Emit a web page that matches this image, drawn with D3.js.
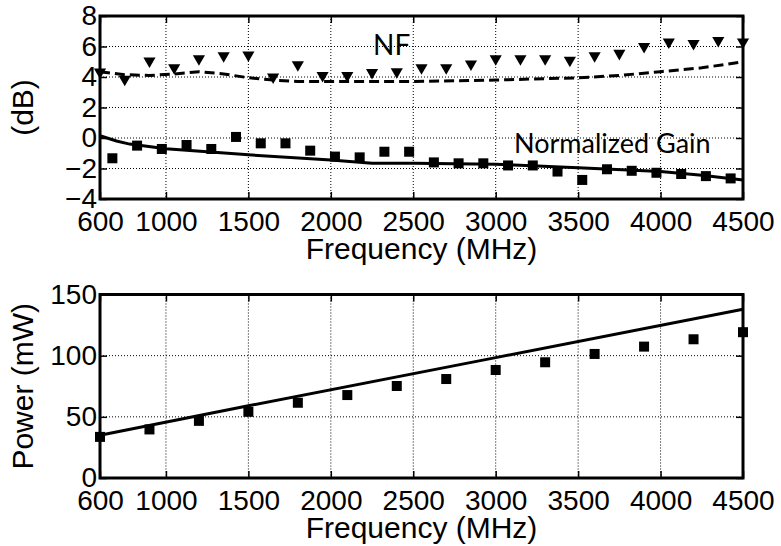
<!DOCTYPE html>
<html>
<head>
<meta charset="utf-8">
<script src="https://cdn.jsdelivr.net/npm/d3@7"></script>
<style>
  body { margin: 0; background: #fff; }
  svg { display: block; }
</style>
</head>
<body>
<div id="chart"></div>
<script>
// tick labels
const freqTicks = [600, 1000, 1500, 2000, 2500, 3000, 3500, 4000, 4500];
const dbTicks = [-4, -2, 0, 2, 4, 6, 8];
const powerTicks = [0, 50, 100, 150];

// NF measured (triangles)
const nfFreq = [600, 750, 900, 1050, 1200, 1350, 1500, 1650, 1800, 1950, 2100, 2250, 2400,
  2550, 2700, 2850, 3000, 3150, 3300, 3450, 3600, 3750, 3900, 4050, 4200, 4350, 4500];
const nfMeas = [4.33, 3.85, 5.05, 4.6, 5.2, 5.4, 5.45, 4.0, 4.8, 4.1, 4.1, 4.3, 4.35,
  4.6, 4.6, 4.85, 5.2, 5.2, 5.2, 5.1, 5.4, 5.55, 6.0, 6.3, 6.2, 6.4, 6.3];

// NF simulated (dashed)
const nfSimFreq = [600, 750, 900, 1050, 1200, 1350, 1500, 1650, 1800, 2000, 2500, 3000, 3500, 3750, 4000, 4250, 4500];
const nfSim = [4.35, 4.15, 4.1, 4.2, 4.35, 4.2, 3.95, 3.8, 3.7, 3.7, 3.7, 3.8, 3.95, 4.1, 4.35, 4.6, 5.0];

// normalized gain measured (squares)
const gainFreq = [675, 825, 975, 1125, 1275, 1425, 1575, 1725, 1875, 2025, 2175, 2325, 2475,
  2625, 2775, 2925, 3075, 3225, 3375, 3525, 3675, 3825, 3975, 4125, 4275, 4425];
const gainMeas = [-1.33, -0.5, -0.72, -0.46, -0.72, 0.07, -0.35, -0.35, -0.83, -1.22, -1.27, -0.9, -0.9,
  -1.6, -1.66, -1.66, -1.8, -1.8, -2.2, -2.75, -2.05, -2.15, -2.28, -2.36, -2.5, -2.65];

// normalized gain simulated (solid)
const gainSimFreq = [600, 700, 780, 1000, 1500, 2000, 2250, 2500, 3000, 3500, 4000, 4250, 4500];
const gainSim = [0.15, -0.2, -0.4, -0.7, -1.1, -1.45, -1.65, -1.65, -1.72, -1.95, -2.2, -2.45, -2.75];

// power measured (squares) and simulated (solid)
const powerFreq = [600, 900, 1200, 1500, 1800, 2100, 2400, 2700, 3000, 3300, 3600, 3900, 4200, 4500];
const powerMeas = [33.6, 39.7, 46.7, 54.1, 61.5, 67.8, 75.2, 80.9, 88.3, 94.6, 101.4, 107.4, 113.4, 119.2];
const powerSimFreq = [600, 1500, 3000, 4500];
const powerSim = [35, 59, 98.4, 138];

const W = 781, H = 546;
const LEFT = 100, RIGHT = 743;
const FONT = '"Liberation Sans", Arial, sans-serif';

const svg = d3.select("#chart").append("svg")
  .attr("width", W)
  .attr("height", H);

svg.append("rect").attr("width", W).attr("height", H).attr("fill", "#fff");

const x = d3.scaleLinear().domain([600, 4500]).range([LEFT, RIGHT]);

function panel(top, bottom, yDomain, yTicks, yLabel) {
  const y = d3.scaleLinear().domain(yDomain).range([bottom, top]);
  const g = svg.append("g");

  // dotted grid
  g.selectAll(".vgrid")
    .data(freqTicks.slice(1, -1))
    .enter().append("line")
    .attr("x1", d => x(d)).attr("x2", d => x(d))
    .attr("y1", top).attr("y2", bottom)
    .attr("stroke", "#000").attr("stroke-width", 1)
    .attr("stroke-dasharray", "1,2");
  g.selectAll(".hgrid")
    .data(yTicks.slice(1, -1))
    .enter().append("line")
    .attr("x1", LEFT).attr("x2", RIGHT)
    .attr("y1", d => y(d)).attr("y2", d => y(d))
    .attr("stroke", "#000").attr("stroke-width", 1)
    .attr("stroke-dasharray", "1,2");

  // axes with inward ticks
  const xAxis = d3.axisBottom(x).tickValues(freqTicks).tickFormat(d3.format("d"))
    .tickSizeInner(-7).tickSizeOuter(0).tickPadding(12);
  const gx = g.append("g")
    .attr("transform", `translate(0, ${bottom})`)
    .call(xAxis);
  gx.selectAll("text").attr("font-size", "28px").attr("font-family", FONT).attr("fill", "#000");

  g.append("g")
    .attr("transform", `translate(0, ${top})`)
    .call(d3.axisTop(x).tickValues(freqTicks).tickSizeInner(-7).tickSizeOuter(0).tickFormat(""));

  const yAxis = d3.axisLeft(y).tickValues(yTicks).tickFormat(d3.format("d"))
    .tickSizeInner(-7).tickSizeOuter(0).tickPadding(3);
  const gy = g.append("g")
    .attr("transform", `translate(${LEFT}, 0)`)
    .call(yAxis);
  gy.selectAll("text").attr("font-size", "28px").attr("font-family", FONT).attr("fill", "#000");

  g.append("g")
    .attr("transform", `translate(${RIGHT}, 0)`)
    .call(d3.axisRight(y).tickValues(yTicks).tickSizeInner(-7).tickSizeOuter(0).tickFormat(""));

  g.selectAll(".domain").remove();
  g.selectAll(".tick line").attr("stroke", "#000").attr("stroke-width", 1.5);

  g.append("rect")
    .attr("x", LEFT).attr("y", top)
    .attr("width", RIGHT - LEFT).attr("height", bottom - top)
    .attr("fill", "none").attr("stroke", "#000").attr("stroke-width", 3);

  // X label
  g.append("text")
    .attr("x", (LEFT + RIGHT) / 2)
    .attr("y", bottom + 60)
    .attr("font-size", "30px")
    .attr("font-family", FONT)
    .attr("text-anchor", "middle")
    .text("Frequency (MHz)");

  // Y label
  g.append("text")
    .attr("transform", `translate(33, ${(top + bottom) / 2}) rotate(-90)`)
    .attr("font-size", "30px")
    .attr("font-family", FONT)
    .attr("text-anchor", "middle")
    .text(yLabel);

  return { g, y };
}

// ---- top panel: NF and gain ----
const p1 = panel(16, 199, [-4, 8], dbTicks, "(dB)");

const line1 = d3.line().x(d => x(d[0])).y(d => p1.y(d[1]));

p1.g.append("path")
  .datum(d3.zip(nfSimFreq, nfSim))
  .attr("d", line1)
  .attr("fill", "none").attr("stroke", "#000").attr("stroke-width", 3)
  .attr("stroke-dasharray", "10,5");

p1.g.append("path")
  .datum(d3.zip(gainSimFreq, gainSim))
  .attr("d", line1)
  .attr("fill", "none").attr("stroke", "#000").attr("stroke-width", 3);

const tri = d3.symbol().type(d3.symbolTriangle).size(64);
p1.g.selectAll(".nf")
  .data(d3.zip(nfFreq, nfMeas))
  .enter().append("path")
  .attr("d", tri)
  .attr("transform", d => `translate(${x(d[0])}, ${p1.y(d[1])}) rotate(180)`)
  .attr("fill", "#000");

p1.g.selectAll(".gain")
  .data(d3.zip(gainFreq, gainMeas))
  .enter().append("rect")
  .attr("x", d => x(d[0]) - 5)
  .attr("y", d => p1.y(d[1]) - 5)
  .attr("width", 10).attr("height", 10)
  .attr("fill", "#000");

p1.g.append("text")
  .attr("x", 373).attr("y", 55)
  .attr("font-family", "Lato, 'Open Sans', sans-serif")
  .attr("font-size", "28px")
  .text("NF");

p1.g.append("text")
  .attr("x", 514).attr("y", 153)
  .attr("font-family", "Lato, 'Open Sans', sans-serif")
  .attr("font-size", "27px")
  .text("Normalized Gain");

// ---- bottom panel: power ----
const p2 = panel(294.5, 478, [0, 150], powerTicks, "Power (mW)");

const line2 = d3.line().x(d => x(d[0])).y(d => p2.y(d[1]));

p2.g.append("path")
  .datum(d3.zip(powerSimFreq, powerSim))
  .attr("d", line2)
  .attr("fill", "none").attr("stroke", "#000").attr("stroke-width", 3);

p2.g.selectAll(".pw")
  .data(d3.zip(powerFreq, powerMeas))
  .enter().append("rect")
  .attr("x", d => x(d[0]) - 5)
  .attr("y", d => p2.y(d[1]) - 5)
  .attr("width", 10).attr("height", 10)
  .attr("fill", "#000");
</script>
</body>
</html>
